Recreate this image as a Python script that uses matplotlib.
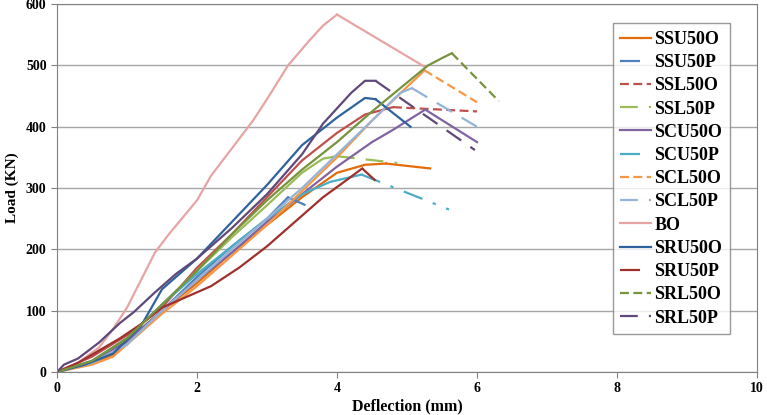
import matplotlib.pyplot as plt

plt.rcParams["font.family"] = ["Liberation Serif", "DejaVu Serif"]
plt.rcParams["font.weight"] = "bold"

names = ["SSU50O", "SSU50P", "SSL50O", "SSL50P", "SCU50O", "SCU50P", "SCL50O",
         "SCL50P", "BO", "SRU50O", "SRU50P", "SRL50O", "SRL50P"]

# load-deflection points; last point = end of the post-peak branch
ssu50o_x = [0, 0.5, 0.8, 1, 1.5, 2, 2.5, 3, 3.5, 4, 4.4, 4.7, 5.33]
ssu50o_y = [0, 15, 28, 50, 100, 145, 195, 240, 285, 325, 338, 340, 332]
ssu50p_x = [0, 0.5, 1, 1.5, 2, 2.5, 3, 3.3, 3.55]
ssu50p_y = [0, 15, 45, 100, 155, 205, 250, 285, 272]
ssl50o_x = [0, 0.5, 1, 1.5, 2, 2.5, 3, 3.5, 4, 4.4, 4.8, 6.0]
ssl50o_y = [0, 25, 60, 105, 170, 225, 285, 345, 390, 420, 432, 425]
ssl50p_x = [0, 0.5, 1, 1.5, 2, 2.5, 3, 3.5, 3.8, 4.0, 4.86]
ssl50p_y = [0, 18, 55, 110, 165, 220, 272, 325, 348, 352, 341]
scu50o_x = [0, 0.5, 1, 1.5, 2, 2.5, 3, 3.5, 4, 4.5, 4.8, 5.26, 6.0]
scu50o_y = [0, 18, 50, 100, 150, 195, 245, 290, 335, 375, 395, 428, 375]
scu50p_x = [0, 0.5, 1, 1.5, 2, 2.5, 3, 3.5, 3.9, 4.2, 4.35, 5.6]
scu50p_y = [0, 18, 55, 110, 160, 205, 250, 290, 310, 318, 322, 265]
scl50o_x = [0, 0.5, 0.8, 1, 1.5, 2, 2.5, 3, 3.5, 4, 4.5, 5, 5.25, 6.0]
scl50o_y = [0, 12, 25, 45, 95, 140, 190, 240, 295, 350, 410, 465, 492, 440]
scl50p_x = [0, 0.5, 1, 1.5, 2, 2.5, 3, 3.5, 4, 4.5, 4.9, 5.07, 6.0]
scl50p_y = [0, 15, 45, 100, 150, 200, 250, 300, 355, 410, 455, 463, 400]
bo_x = [0, 0.3, 0.6, 0.8, 1.0, 1.2, 1.4, 1.6, 2.0, 2.2, 2.6, 2.8, 3.0, 3.3, 3.6, 3.8, 4.0, 5.25]
bo_y = [0, 15, 40, 70, 105, 150, 195, 225, 280, 320, 380, 410, 445, 500, 540, 565, 583, 498]
sru50o_x = [0, 0.4, 0.8, 1.2, 1.5, 2, 2.5, 3, 3.5, 4, 4.4, 4.55, 5.05]
sru50o_y = [0, 12, 30, 75, 135, 185, 245, 305, 370, 415, 447, 445, 400]
sru50p_x = [0, 0.3, 0.6, 0.9, 1.2, 1.5, 1.8, 2.2, 2.6, 3, 3.4, 3.8, 4.1, 4.36, 4.55]
sru50p_y = [0, 15, 35, 55, 78, 105, 120, 140, 170, 205, 245, 285, 310, 332, 312]
srl50o_x = [0, 0.5, 1, 1.5, 2, 2.5, 3, 3.5, 4, 4.5, 5, 5.3, 5.5, 5.64, 6.31]
srl50o_y = [0, 18, 55, 110, 165, 225, 280, 330, 375, 425, 472, 500, 512, 520, 442]
srl50p_x = [0, 0.1, 0.3, 0.6, 0.9, 1.1, 1.4, 1.7, 2, 2.5, 3, 3.5, 3.8, 4.2, 4.4, 4.55, 5.97]
srl50p_y = [0, 12, 22, 48, 80, 98, 130, 160, 185, 235, 290, 355, 405, 455, 475, 475, 362]

xs = [ssu50o_x, ssu50p_x, ssl50o_x, ssl50p_x, scu50o_x, scu50p_x, scl50o_x,
      scl50p_x, bo_x, sru50o_x, sru50p_x, srl50o_x, srl50p_x]
ys = [ssu50o_y, ssu50p_y, ssl50o_y, ssl50p_y, scu50o_y, scu50p_y, scl50o_y,
      scl50p_y, bo_y, sru50o_y, sru50p_y, srl50o_y, srl50p_y]

colors = ["#E46C0A", "#4F81BD", "#C0504D", "#9BBB59", "#8064A2", "#4BACC6", "#F79646",
          "#95B3D7", "#E6A5A4", "#2F639D", "#A0302E", "#77933C", "#5F497A"]
dashdot = (0, (9, 5, 1.5, 5))
longdash = (0, (8, 5))
dashed = (0, (4, 2))
styles = ["-", dashdot, dashed, longdash, "-", dashdot, dashed,
          longdash, "-", "-", dashdot, dashed, longdash]

fig = plt.figure(figsize=(7.67, 4.15), dpi=100)
ax = fig.add_axes([0.0743, 0.1036, 0.9127, 0.8864])

for name, x, y, c, ls in zip(names, xs, ys, colors, styles):
    # rising part looks solid (dense test data), post-peak part uses the series style
    k = len(x) - 1
    ax.plot(x[:k], y[:k], color=c, lw=1.6, ls="-")
    ax.plot(x[k - 1:], y[k - 1:], color=c, lw=1.6, ls=ls)
    ax.plot([], [], color=c, lw=1.6, ls=ls, label=name)

ax.set_xlim(0, 10)
ax.set_ylim(0, 600)
ax.set_xticks(range(0, 11, 2))
ax.set_yticks(range(0, 601, 100))
ax.yaxis.grid(True, color="#A6A6A6", lw=1)
ax.set_axisbelow(True)
for s in ax.spines.values():
    s.set_color("#808080")
ax.tick_params(colors="black", labelsize=10, length=4, color="#808080")
for lab in ax.get_xticklabels() + ax.get_yticklabels():
    lab.set_fontweight("bold")
ax.set_xlabel("Deflection (mm)", fontsize=11.5, fontweight="bold", labelpad=2)
ax.set_ylabel("Load (KN)", fontsize=11, fontweight="bold", labelpad=5)

leg = ax.legend(loc="upper left", bbox_to_anchor=(0.794, 0.948), fontsize=13,
                handlelength=1.7, handletextpad=0.18, labelspacing=0.345,
                frameon=True, fancybox=False, borderpad=0.42, borderaxespad=0)
leg.get_frame().set_edgecolor("#808080")
leg.get_frame().set_linewidth(1)
for t in leg.get_texts():
    t.set_fontweight("bold")

fig.savefig("out.png", dpi=100)
